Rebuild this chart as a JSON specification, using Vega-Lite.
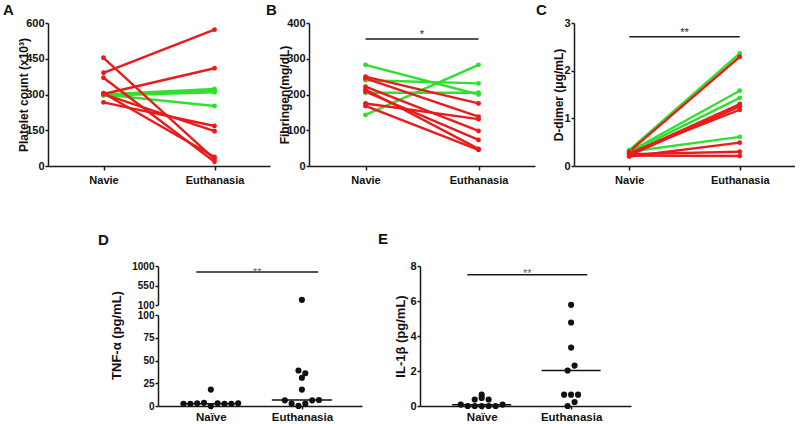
{
  "$schema": "https://vega.github.io/schema/vega-lite/v6.json",
  "background": "white",
  "padding": {"left": 3, "top": 3, "right": 0, "bottom": 0},
  "spacing": 46,
  "datasets": {
    "platelet": [
      {"id": 1, "set": "G1", "group": "Navie", "value": 300}, {"id": 1, "set": "G1", "group": "Euthanasia", "value": 323},
      {"id": 2, "set": "G1", "group": "Navie", "value": 298}, {"id": 2, "set": "G1", "group": "Euthanasia", "value": 315},
      {"id": 3, "set": "G1", "group": "Navie", "value": 296}, {"id": 3, "set": "G1", "group": "Euthanasia", "value": 309},
      {"id": 4, "set": "G1", "group": "Navie", "value": 300}, {"id": 4, "set": "G1", "group": "Euthanasia", "value": 252},
      {"id": 5, "set": "G2", "group": "Navie", "value": 391}, {"id": 5, "set": "G2", "group": "Euthanasia", "value": 572},
      {"id": 6, "set": "G2", "group": "Navie", "value": 302}, {"id": 6, "set": "G2", "group": "Euthanasia", "value": 410},
      {"id": 7, "set": "G2", "group": "Navie", "value": 454}, {"id": 7, "set": "G2", "group": "Euthanasia", "value": 29},
      {"id": 8, "set": "G2", "group": "Navie", "value": 370}, {"id": 8, "set": "G2", "group": "Euthanasia", "value": 18},
      {"id": 9, "set": "G2", "group": "Navie", "value": 302}, {"id": 9, "set": "G2", "group": "Euthanasia", "value": 146},
      {"id": 10, "set": "G2", "group": "Navie", "value": 267}, {"id": 10, "set": "G2", "group": "Euthanasia", "value": 168},
      {"id": 11, "set": "G2", "group": "Navie", "value": 305}, {"id": 11, "set": "G2", "group": "Euthanasia", "value": 38}
    ],
    "fibrinogen": [
      {"id": 1, "set": "G1", "group": "Navie", "value": 283}, {"id": 1, "set": "G1", "group": "Euthanasia", "value": 200},
      {"id": 2, "set": "G1", "group": "Navie", "value": 240}, {"id": 2, "set": "G1", "group": "Euthanasia", "value": 231},
      {"id": 3, "set": "G1", "group": "Navie", "value": 205}, {"id": 3, "set": "G1", "group": "Euthanasia", "value": 205},
      {"id": 4, "set": "G1", "group": "Navie", "value": 143}, {"id": 4, "set": "G1", "group": "Euthanasia", "value": 283},
      {"id": 5, "set": "G2", "group": "Navie", "value": 250}, {"id": 5, "set": "G2", "group": "Euthanasia", "value": 175},
      {"id": 6, "set": "G2", "group": "Navie", "value": 245}, {"id": 6, "set": "G2", "group": "Euthanasia", "value": 138},
      {"id": 7, "set": "G2", "group": "Navie", "value": 222}, {"id": 7, "set": "G2", "group": "Euthanasia", "value": 98},
      {"id": 8, "set": "G2", "group": "Navie", "value": 214}, {"id": 8, "set": "G2", "group": "Euthanasia", "value": 48},
      {"id": 9, "set": "G2", "group": "Navie", "value": 208}, {"id": 9, "set": "G2", "group": "Euthanasia", "value": 73},
      {"id": 10, "set": "G2", "group": "Navie", "value": 175}, {"id": 10, "set": "G2", "group": "Euthanasia", "value": 131},
      {"id": 11, "set": "G2", "group": "Navie", "value": 168}, {"id": 11, "set": "G2", "group": "Euthanasia", "value": 45}
    ],
    "ddimer": [
      {"id": 1, "set": "G1", "group": "Navie", "value": 0.33}, {"id": 1, "set": "G1", "group": "Euthanasia", "value": 2.36},
      {"id": 2, "set": "G1", "group": "Navie", "value": 0.30}, {"id": 2, "set": "G1", "group": "Euthanasia", "value": 1.58},
      {"id": 3, "set": "G1", "group": "Navie", "value": 0.28}, {"id": 3, "set": "G1", "group": "Euthanasia", "value": 1.43},
      {"id": 4, "set": "G1", "group": "Navie", "value": 0.30}, {"id": 4, "set": "G1", "group": "Euthanasia", "value": 0.61},
      {"id": 5, "set": "G2", "group": "Navie", "value": 0.30}, {"id": 5, "set": "G2", "group": "Euthanasia", "value": 2.29},
      {"id": 6, "set": "G2", "group": "Navie", "value": 0.25}, {"id": 6, "set": "G2", "group": "Euthanasia", "value": 1.30},
      {"id": 7, "set": "G2", "group": "Navie", "value": 0.22}, {"id": 7, "set": "G2", "group": "Euthanasia", "value": 1.25},
      {"id": 8, "set": "G2", "group": "Navie", "value": 0.27}, {"id": 8, "set": "G2", "group": "Euthanasia", "value": 1.18},
      {"id": 9, "set": "G2", "group": "Navie", "value": 0.20}, {"id": 9, "set": "G2", "group": "Euthanasia", "value": 0.49},
      {"id": 10, "set": "G2", "group": "Navie", "value": 0.25}, {"id": 10, "set": "G2", "group": "Euthanasia", "value": 0.30},
      {"id": 11, "set": "G2", "group": "Navie", "value": 0.22}, {"id": 11, "set": "G2", "group": "Euthanasia", "value": 0.21}
    ],
    "tnf": [
      {"id": 1, "group": "Naïve", "value": 2.5}, {"id": 2, "group": "Naïve", "value": 2.5},
      {"id": 3, "group": "Naïve", "value": 3}, {"id": 4, "group": "Naïve", "value": 3.5},
      {"id": 5, "group": "Naïve", "value": 0}, {"id": 6, "group": "Naïve", "value": 3},
      {"id": 7, "group": "Naïve", "value": 2.5}, {"id": 8, "group": "Naïve", "value": 2.5},
      {"id": 9, "group": "Naïve", "value": 3}, {"id": 10, "group": "Naïve", "value": 18},
      {"id": 1, "group": "Euthanasia", "value": 6.2}, {"id": 2, "group": "Euthanasia", "value": 2.6},
      {"id": 3, "group": "Euthanasia", "value": 0.1}, {"id": 4, "group": "Euthanasia", "value": 2.6},
      {"id": 5, "group": "Euthanasia", "value": 6.2}, {"id": 6, "group": "Euthanasia", "value": 6.6},
      {"id": 7, "group": "Euthanasia", "value": 39}, {"id": 8, "group": "Euthanasia", "value": 36},
      {"id": 9, "group": "Euthanasia", "value": 31}, {"id": 10, "group": "Euthanasia", "value": 18},
      {"id": 11, "group": "Euthanasia", "value": 220}
    ],
    "il1b": [
      {"id": 1, "group": "Naïve", "value": 0.08}, {"id": 2, "group": "Naïve", "value": 0},
      {"id": 3, "group": "Naïve", "value": 0}, {"id": 4, "group": "Naïve", "value": 0},
      {"id": 5, "group": "Naïve", "value": 0}, {"id": 6, "group": "Naïve", "value": 0},
      {"id": 7, "group": "Naïve", "value": 0.08}, {"id": 8, "group": "Naïve", "value": 0.37},
      {"id": 9, "group": "Naïve", "value": 0.46}, {"id": 10, "group": "Naïve", "value": 0.37},
      {"id": 11, "group": "Naïve", "value": 0.65},
      {"id": 1, "group": "Euthanasia", "value": 0}, {"id": 2, "group": "Euthanasia", "value": 0.23},
      {"id": 3, "group": "Euthanasia", "value": 0.65}, {"id": 4, "group": "Euthanasia", "value": 0.65},
      {"id": 5, "group": "Euthanasia", "value": 0.65}, {"id": 6, "group": "Euthanasia", "value": 2.03},
      {"id": 7, "group": "Euthanasia", "value": 2.31}, {"id": 8, "group": "Euthanasia", "value": 3.34},
      {"id": 9, "group": "Euthanasia", "value": 4.77}, {"id": 10, "group": "Euthanasia", "value": 5.78}
    ],
    "medians": [
      {"panel": "TNF", "group": "Naïve", "value": 2.5},
      {"panel": "TNF", "group": "Euthanasia", "value": 6.5},
      {"panel": "IL", "group": "Naïve", "value": 0.07},
      {"panel": "IL", "group": "Euthanasia", "value": 2.03}
    ],
    "sig": [
      {"panel": "B", "value": 355, "label": "*"},
      {"panel": "C", "value": 2.71, "label": "**"},
      {"panel": "TNF", "value": 860, "label": "**"},
      {"panel": "IL", "value": 7.5, "label": "**"}
    ]
  },
  "vconcat": [
    {
      "hconcat": [
        {
          "width": 222, "height": 143,
          "title": {"text": "A", "dx": -45, "offset": -1},
          "data": {"name": "platelet"},
          "transform": [{"calculate": "datum.group == 'Navie' ? 0 : 1", "as": "gx"}],
          "mark": {"type": "line", "strokeWidth": 2.4, "point": {"filled": true, "size": 24, "opacity": 1}},
          "encoding": {
            "x": {"field": "gx", "type": "quantitative", "scale": {"domain": [-0.5, 1.5], "nice": false, "zero": false},
                  "axis": {"values": [0, 1], "labelExpr": "datum.value == 0 ? 'Navie' : 'Euthanasia'", "title": null}},
            "y": {"field": "value", "type": "quantitative", "scale": {"domain": [0, 600], "nice": false},
                  "axis": {"values": [0, 150, 300, 450, 600], "title": "Platelet count (x10³)", "titlePadding": -4.5}},
            "color": {"field": "set", "type": "nominal", "scale": {"domain": ["G1", "G2"], "range": ["#30e030", "#e81c1c"]}, "legend": null},
            "detail": {"field": "id", "type": "nominal"}
          }
        },
        {
          "width": 226, "height": 143,
          "title": {"text": "B", "dx": -43, "offset": -1},
          "encoding": {
            "x": {"field": "gx", "type": "quantitative", "scale": {"domain": [-0.5, 1.5], "nice": false, "zero": false},
                  "axis": {"values": [0, 1], "labelExpr": "datum.value == 0 ? 'Navie' : 'Euthanasia'", "title": null}},
            "y": {"field": "value", "type": "quantitative", "scale": {"domain": [0, 400], "nice": false},
                  "axis": {"values": [0, 100, 200, 300, 400], "title": "Fibringen(mg/dL)", "titlePadding": -4.5}}
          },
          "layer": [
            {
              "data": {"name": "fibrinogen"},
              "transform": [{"calculate": "datum.group == 'Navie' ? 0 : 1", "as": "gx"}],
              "mark": {"type": "line", "strokeWidth": 2.4, "point": {"filled": true, "size": 24, "opacity": 1}},
              "encoding": {
                "color": {"field": "set", "type": "nominal", "scale": {"domain": ["G1", "G2"], "range": ["#30e030", "#e81c1c"]}, "legend": null},
                "detail": {"field": "id", "type": "nominal"}
              }
            },
            {
              "data": {"name": "sig"},
              "transform": [{"filter": "datum.panel == 'B'"}, {"calculate": "0", "as": "gx"}, {"calculate": "1", "as": "gx2"}],
              "mark": {"type": "rule", "strokeWidth": 1.5, "color": "#1a1a1a"},
              "encoding": {"x2": {"field": "gx2"}}
            },
            {
              "data": {"name": "sig"},
              "transform": [{"filter": "datum.panel == 'B'"}, {"calculate": "0.5", "as": "gx"}],
              "mark": {"type": "text", "fontSize": 11, "baseline": "alphabetic", "dy": -1, "color": "#222", "font": "Liberation Sans"},
              "encoding": {"text": {"field": "label"}}
            }
          ]
        },
        {
          "width": 221, "height": 143,
          "title": {"text": "C", "dx": -38, "offset": -1},
          "encoding": {
            "x": {"field": "gx", "type": "quantitative", "scale": {"domain": [-0.5, 1.5], "nice": false, "zero": false},
                  "axis": {"values": [0, 1], "labelExpr": "datum.value == 0 ? 'Navie' : 'Euthanasia'", "title": null}},
            "y": {"field": "value", "type": "quantitative", "scale": {"domain": [0, 3], "nice": false},
                  "axis": {"values": [0, 1, 2, 3], "title": "D-dimer (μg/mL)", "titlePadding": -2}}
          },
          "layer": [
            {
              "data": {"name": "ddimer"},
              "transform": [{"calculate": "datum.group == 'Navie' ? 0 : 1", "as": "gx"}],
              "mark": {"type": "line", "strokeWidth": 2.4, "point": {"filled": true, "size": 24, "opacity": 1}},
              "encoding": {
                "color": {"field": "set", "type": "nominal", "scale": {"domain": ["G1", "G2"], "range": ["#30e030", "#e81c1c"]}, "legend": null},
                "detail": {"field": "id", "type": "nominal"}
              }
            },
            {
              "data": {"name": "sig"},
              "transform": [{"filter": "datum.panel == 'C'"}, {"calculate": "0", "as": "gx"}, {"calculate": "1", "as": "gx2"}],
              "mark": {"type": "rule", "strokeWidth": 1.5, "color": "#1a1a1a"},
              "encoding": {"x2": {"field": "gx2"}}
            },
            {
              "data": {"name": "sig"},
              "transform": [{"filter": "datum.panel == 'C'"}, {"calculate": "0.5", "as": "gx"}],
              "mark": {"type": "text", "fontSize": 11, "baseline": "alphabetic", "dy": -1, "color": "#222", "font": "Liberation Sans"},
              "encoding": {"text": {"field": "label"}}
            }
          ]
        }
      ],
      "spacing": 39,
      "bounds": "flush"
    },
    {
      "hconcat": [
        {"width": 34, "height": 10, "data": {"values": []}, "mark": "point"},
        {
          "vconcat": [
            {
              "width": 204, "height": 39,
              "title": {"text": "D", "dx": -60, "offset": 13.5},
              "encoding": {
                "x": {"field": "gx", "type": "quantitative", "scale": {"domain": [-0.58, 1.66], "nice": false, "zero": false}, "axis": null},
                "y": {"field": "value", "type": "quantitative", "scale": {"domain": [100, 1000], "nice": false, "zero": false},
                      "axis": {"values": [100, 550, 1000], "format": "d", "title": null, "labelFontSize": 10}}
              },
              "layer": [
                {
                  "data": {"name": "tnf"},
                  "transform": [
                    {"calculate": "datum.group == 'Naïve' ? 0 : 1", "as": "g"},
                    {"calculate": "floor(datum.value / 8)", "as": "band"},
                    {"window": [{"op": "row_number", "as": "rk"}, {"op": "count", "as": "n"}], "groupby": ["g", "band"], "sort": [{"field": "id", "order": "ascending"}], "frame": [null, null]},
                    {"calculate": "datum.g + (datum.rk - (datum.n + 1) / 2) * 0.075", "as": "gx"},
                    {"filter": "datum.value > 100"}
                  ],
                  "mark": {"type": "circle", "size": 38, "color": "#111", "opacity": 1}
                },
                {
                  "data": {"name": "sig"},
                  "transform": [{"filter": "datum.panel == 'TNF'"}, {"calculate": "-0.16", "as": "gx"}, {"calculate": "1.18", "as": "gx2"}],
                  "mark": {"type": "rule", "strokeWidth": 1.5, "color": "#1a1a1a"},
                  "encoding": {"x2": {"field": "gx2"}}
                },
                {
                  "data": {"name": "sig"},
                  "transform": [{"filter": "datum.panel == 'TNF'"}, {"calculate": "0.51", "as": "gx"}],
                  "mark": {"type": "text", "fontSize": 11, "baseline": "alphabetic", "dy": 4, "color": "#666", "font": "Liberation Sans"},
                  "encoding": {"text": {"field": "label"}}
                }
              ]
            },
            {
              "width": 204, "height": 91,
              "encoding": {
                "x": {"field": "gx", "type": "quantitative", "scale": {"domain": [-0.58, 1.66], "nice": false, "zero": false},
                      "axis": {"values": [0, 1], "labelExpr": "datum.value == 0 ? 'Naïve' : 'Euthanasia'", "title": null,
                               "labelFontSize": 11.5, "tickSize": 3, "labelPadding": 2}},
                "y": {"field": "value", "type": "quantitative", "scale": {"domain": [0, 100], "nice": false},
                      "axis": {"values": [0, 25, 50, 75, 100], "title": "TNF-α (pg/mL)", "titleY": 20, "titlePadding": 14,
                               "labelFontSize": 10, "titleFontSize": 13}}
              },
              "layer": [
                {
                  "data": {"name": "tnf"},
                  "transform": [
                    {"calculate": "datum.group == 'Naïve' ? 0 : 1", "as": "g"},
                    {"calculate": "floor(datum.value / 8)", "as": "band"},
                    {"window": [{"op": "row_number", "as": "rk"}, {"op": "count", "as": "n"}], "groupby": ["g", "band"], "sort": [{"field": "id", "order": "ascending"}], "frame": [null, null]},
                    {"calculate": "datum.g + (datum.rk - (datum.n + 1) / 2) * 0.075", "as": "gx"},
                    {"filter": "datum.value <= 100"}
                  ],
                  "mark": {"type": "circle", "size": 38, "color": "#111", "opacity": 1}
                },
                {
                  "data": {"name": "medians"},
                  "transform": [{"filter": "datum.panel == 'TNF'"}, {"calculate": "(datum.group == 'Naïve' ? 0 : 1) - 0.33", "as": "gx"}, {"calculate": "datum.gx + 0.66", "as": "gx2"}],
                  "mark": {"type": "rule", "strokeWidth": 1.5, "color": "#111"},
                  "encoding": {"x2": {"field": "gx2"}}
                }
              ]
            }
          ],
          "spacing": 10,
          "bounds": "flush"
        },
        {
          "width": 211, "height": 140,
          "title": {"text": "E", "dx": -42, "offset": 13.5},
          "encoding": {
            "x": {"field": "gx", "type": "quantitative", "scale": {"domain": [-0.69, 1.67], "nice": false, "zero": false},
                  "axis": {"values": [0, 1], "labelExpr": "datum.value == 0 ? 'Naïve' : 'Euthanasia'", "title": null,
                           "labelFontSize": 11.5, "tickSize": 3, "labelPadding": 2}},
            "y": {"field": "value", "type": "quantitative", "scale": {"domain": [0, 8], "nice": false},
                  "axis": {"values": [0, 2, 4, 6, 8], "title": "IL-1β (pg/mL)", "titlePadding": 2,
                           "labelFontSize": 11, "titleFontSize": 13}}
          },
          "layer": [
            {
              "data": {"name": "il1b"},
              "transform": [
                {"calculate": "datum.group == 'Naïve' ? 0 : 1", "as": "g"},
                {"calculate": "datum.value < 1 ? floor(datum.value / 0.3) : 10 + floor(datum.value / 0.6)", "as": "band"},
                {"window": [{"op": "row_number", "as": "rk"}, {"op": "count", "as": "n"}], "groupby": ["g", "band"], "sort": [{"field": "id", "order": "ascending"}], "frame": [null, null]},
                {"calculate": "datum.g + (datum.rk - (datum.n + 1) / 2) * 0.078", "as": "gx"}
              ],
              "mark": {"type": "circle", "size": 38, "color": "#111", "opacity": 1}
            },
            {
              "data": {"name": "medians"},
              "transform": [{"filter": "datum.panel == 'IL'"}, {"calculate": "(datum.group == 'Naïve' ? 0 : 1) - 0.33", "as": "gx"}, {"calculate": "datum.gx + 0.66", "as": "gx2"}],
              "mark": {"type": "rule", "strokeWidth": 1.5, "color": "#111"},
              "encoding": {"x2": {"field": "gx2"}}
            },
            {
              "data": {"name": "sig"},
              "transform": [{"filter": "datum.panel == 'IL'"}, {"calculate": "-0.16", "as": "gx"}, {"calculate": "1.18", "as": "gx2"}],
              "mark": {"type": "rule", "strokeWidth": 1.5, "color": "#1a1a1a"},
              "encoding": {"x2": {"field": "gx2"}}
            },
            {
              "data": {"name": "sig"},
              "transform": [{"filter": "datum.panel == 'IL'"}, {"calculate": "0.51", "as": "gx"}],
              "mark": {"type": "text", "fontSize": 11, "baseline": "alphabetic", "dy": 2.5, "color": "#666", "font": "Liberation Sans"},
              "encoding": {"text": {"field": "label"}}
            }
          ]
        }
      ],
      "spacing": 16
    }
  ],
  "config": {
    "view": {"stroke": null},
    "axis": {
      "grid": false,
      "domainColor": "#1a1a1a", "domainWidth": 1.5,
      "tickColor": "#1a1a1a", "tickWidth": 1.5,
      "labelColor": "#111", "labelFont": "Liberation Sans", "labelFontWeight": "bold", "labelFontSize": 11,
      "titleColor": "#111", "titleFont": "Liberation Sans", "titleFontWeight": "bold", "titleFontSize": 12
    },
    "axisX": {"tickSize": 4, "labelPadding": 4, "labelAngle": 0},
    "axisY": {"tickSize": 3, "labelPadding": 1},
    "title": {"font": "Liberation Sans", "fontWeight": "bold", "fontSize": 15, "anchor": "start", "frame": "group", "baseline": "alphabetic", "color": "#111"}
  }
}
